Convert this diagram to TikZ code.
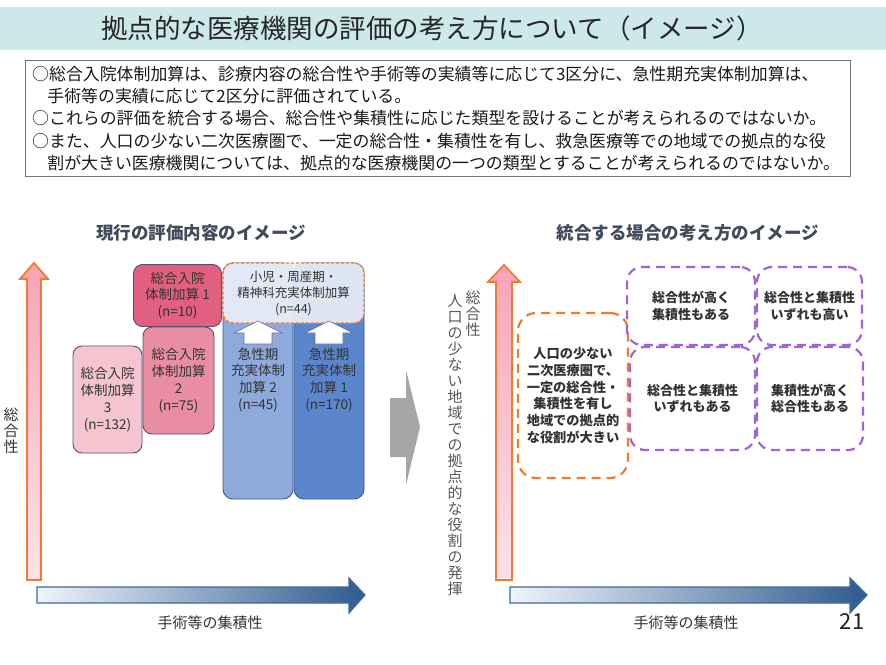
\documentclass[tikz,border=0pt]{standalone}
\usepackage{fontspec}
\setmainfont{Noto Sans CJK JP}
\definecolor{titlebg}{HTML}{CDE8E9}
\definecolor{headc}{HTML}{404B5C}
\definecolor{txt}{HTML}{333333}
\definecolor{pinkA}{HTML}{E2607F}
\definecolor{pinkB}{HTML}{E98DA2}
\definecolor{pinkC}{HTML}{F4C5D1}
\definecolor{pinkedge}{HTML}{5B4E6B}
\definecolor{blueA}{HTML}{5B86CD}
\definecolor{blueB}{HTML}{8EA9DB}
\definecolor{blueedge}{HTML}{41598B}
\definecolor{ovfill}{HTML}{E9EDF6}
\definecolor{orangec}{HTML}{ED7D31}
\definecolor{purplec}{HTML}{A064D4}
\definecolor{arrowdark}{HTML}{2E5B8E}
\definecolor{arrowlight}{HTML}{F0F4FA}
\definecolor{arrowedge}{HTML}{41699B}
\definecolor{pinktop}{HTML}{F7A3B8}
\definecolor{pinkbot}{HTML}{FDE3E9}
\definecolor{grayarrow}{HTML}{A6A6A6}
\begin{document}
\begin{tikzpicture}[x=1pt,y=-1pt,
  heading/.style={font=\bfseries\fontsize{17.5}{20}\selectfont, text=headc, inner sep=0},
  lbox/.style={draw=pinkedge, line width=0.9pt, rounded corners=9pt, inner sep=0, align=center, text=txt, font=\fontsize{13.5}{16.8}\selectfont},
  bbox/.style={draw=blueedge, line width=0.9pt, rounded corners=10pt, inner sep=0},
  btext/.style={align=center, text=txt, font=\fontsize{13.5}{16.8}\selectfont, inner sep=0},
  pbox/.style={draw=purplec, line width=2.2pt, dash pattern=on 9pt off 6pt, rounded corners=15pt, inner sep=0, align=center, text=txt, font=\bfseries\fontsize{13}{16.8}\selectfont},
  obox/.style={draw=orangec, line width=2.2pt, dash pattern=on 9pt off 6pt, rounded corners=18pt, inner sep=0, align=center, text=txt, font=\bfseries\fontsize{13.2}{16.8}\selectfont},
  vlabel/.style={align=center, inner sep=0, font=\fontsize{15}{16}\selectfont},
  axislabel/.style={inner sep=0, text=txt, font=\fontsize{15}{18}\selectfont},
  uparrow/.style={draw=orangec, line width=1.8pt, top color=pinktop, bottom color=pinkbot},
  rightarrow/.style={draw=arrowedge, line width=1.2pt, left color=arrowlight, right color=arrowdark},
  whitearrow/.style={fill=white, draw=gray!80!blue, line width=0.6pt}
]
\useasboundingbox (0,0) rectangle (886,664);
\fill[white] (0,0) rectangle (886,664);

% title
\node[fill=titlebg, minimum width=886pt, minimum height=43pt, inner sep=0] (titlebar) at (443,28.5) {};
\node[inner sep=0, text=black!85, font=\fontsize{26.5}{30}\selectfont] (title) at (432,28) {拠点的な医療機関の評価の考え方について（イメージ）};

% intro box
\node[draw=black!55, line width=1pt, minimum width=825pt, minimum height=116pt, inner sep=0] (intro) at (437.5,118) {};
\node[anchor=west, align=left, inner sep=0, text=black!90, font=\fontsize{16.9}{22.3}\selectfont] (introtext) at (32,118.5)
{○総合入院体制加算は、診療内容の総合性や手術等の実績等に応じて3区分に、急性期充実体制加算は、\\
\hspace*{0.9em}手術等の実績に応じて2区分に評価されている。\\
○これらの評価を統合する場合、総合性や集積性に応じた類型を設けることが考えられるのではないか。\\
○また、人口の少ない二次医療圏で、一定の総合性・集積性を有し、救急医療等での地域での拠点的な役\\
\hspace*{0.9em}割が大きい医療機関については、拠点的な医療機関の一つの類型とすることが考えられるのではないか。};

% headings
\node[heading] (lhead) at (201,233) {現行の評価内容のイメージ};
\node[heading] (rhead) at (688,233) {統合する場合の考え方のイメージ};

% left axes
\draw[uparrow] (27,580) -- (27,279) -- (20,279) -- (34,263) -- (48,279) -- (41,279) -- (41,580) -- cycle;
\draw[rightarrow] (37,587) -- (349,587) -- (349,578) -- (365,595) -- (349,613) -- (349,603) -- (37,603) -- cycle;
\node[vlabel, text=txt] (lvert) at (11,431) {総\\合\\性};
\node[axislabel] (lxlab) at (210,623) {手術等の集積性};

% left boxes
\node[lbox, fill=pinkC, minimum width=69pt, minimum height=107pt] (b3) at (107.5,399.5) {総合入院\\体制加算\\3\\(n=132)};
\node[lbox, fill=pinkB, minimum width=71pt, minimum height=107pt] (b2) at (178.5,380.5) {総合入院\\体制加算\\2\\(n=75)};
\node[lbox, fill=pinkA, minimum width=88pt, minimum height=62pt] (b1) at (177.5,295.5) {総合入院\\体制加算 1\\(n=10)};
\node[bbox, fill=blueB, minimum width=70pt, minimum height=236pt] (a2) at (258,381) {};
\node[bbox, fill=blueA, minimum width=70pt, minimum height=236pt] (a1) at (329,381) {};
\node[draw=orangec, line width=1.4pt, dash pattern=on 3pt off 2pt, rounded corners=10pt, fill=ovfill, fill opacity=0.93, text opacity=1,
  minimum width=141pt, minimum height=60pt, inner sep=0, align=center, text=txt, font=\fontsize{12.5}{16}\selectfont] (ov) at (293.5,293)
  {小児・周産期・\\精神科充実体制加算\\(n=44)};
\draw[whitearrow] (244,344) -- (244,333) -- (234,333) -- (258,321) -- (282,333) -- (272,333) -- (272,344) -- cycle;
\draw[whitearrow] (315,344) -- (315,333) -- (305,333) -- (329,321) -- (353,333) -- (343,333) -- (343,344) -- cycle;
\node[btext] (a2t) at (258,380) {急性期\\充実体制\\加算 2\\(n=45)};
\node[btext] (a1t) at (329,380) {急性期\\充実体制\\加算 1\\(n=170)};

% middle gray arrow
\fill[grayarrow] (390,398) -- (406,398) -- (406,370) -- (420,427) -- (406,485) -- (406,457) -- (390,457) -- cycle;

% right axes
\draw[uparrow] (496,580) -- (496,282) -- (488,282) -- (504,265) -- (520,282) -- (512,282) -- (512,580) -- cycle;
\draw[rightarrow] (510,587) -- (850,587) -- (850,578) -- (867,595) -- (850,613) -- (850,603) -- (510,603) -- cycle;
\node[vlabel, text=black!65, anchor=north] (rvert1) at (473,291) {総\\合\\性};
\node[vlabel, text=black!65, anchor=north] (rvert2) at (455,294) {人\\口\\の\\少\\な\\い\\地\\域\\で\\の\\拠\\点\\的\\な\\役\\割\\の\\発\\揮};
\node[axislabel] (rxlab) at (686,623) {手術等の集積性};
\node[inner sep=0, text=black!88, font=\fontsize{22}{24}\selectfont] (pagenum) at (852,622) {21};

% right boxes
\node[obox, minimum width=110pt, minimum height=165pt] (q0) at (573,395.5) {人口の少ない\\二次医療圏で、\\一定の総合性・\\集積性を有し\\地域での拠点的\\な役割が大きい};
\node[pbox, minimum width=128pt, minimum height=78pt] (q1) at (691,306) {総合性が高く\\集積性もある};
\node[pbox, minimum width=105pt, minimum height=78pt] (q2) at (809.5,306) {総合性と集積性\\いずれも高い};
\node[pbox, minimum width=125pt, minimum height=103pt] (q3) at (692.5,398.5) {総合性と集積性\\いずれもある};
\node[pbox, minimum width=106pt, minimum height=103pt] (q4) at (810,398.5) {集積性が高く\\総合性もある};
\end{tikzpicture}
\end{document}
